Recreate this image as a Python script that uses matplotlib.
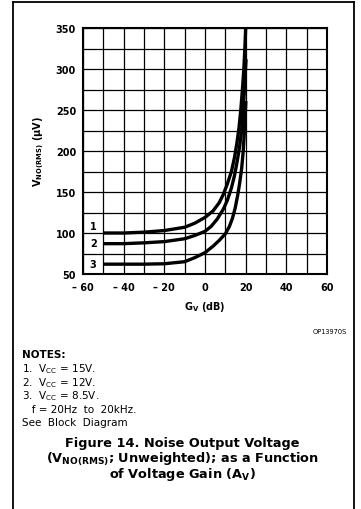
import numpy as np
import matplotlib
matplotlib.use("Agg")
import matplotlib.pyplot as plt
from matplotlib.lines import Line2D

plt.rcParams["font.family"] = ["DejaVu Sans"]
plt.rcParams["mathtext.default"] = "regular"

# curves: gain (dB) -> noise output (uV rms)
gv_1 = [-50, -40, -30, -20, -10, -5, 0, 4, 7, 9, 11, 13, 14.5, 15.7, 16.7, 17.6, 18.4, 19.1, 19.6, 20.0]
vno_1 = [100, 100, 101, 103, 107, 112, 119, 127, 137, 147, 160, 175, 192, 210, 228, 250, 275, 300, 325, 350]
gv_2 = [-50, -40, -30, -20, -10, -5, 0, 3, 6, 9, 11, 13, 14.5, 15.8, 17, 18, 18.8, 19.4, 19.9, 20.2]
vno_2 = [87, 87, 88, 89.5, 93, 97, 102, 108, 117, 129, 140, 155, 170, 187, 205, 225, 250, 275, 300, 312]
gv_3 = [-50, -40, -30, -20, -10, -5, 0, 4, 7, 10, 12, 13.5, 14.8, 16, 17, 18, 18.8, 19.4, 19.8, 20.1]
vno_3 = [62, 62, 62, 62.5, 65, 70, 76, 84, 91, 99, 108, 118, 130, 145, 160, 178, 200, 225, 245, 261]
curve_labels = ["1", "2", "3"]
label_y = [109, 88, 62]

x_ticks = [-60, -40, -20, 0, 20, 40, 60]
x_ticklabels = ["\u2013 60", "\u2013 40", "\u2013 20", "0", "20", "40", "60"]
y_ticks = [50, 100, 150, 200, 250, 300, 350]

notes = ["1.  V$_{CC}$ = 15V.", "2.  V$_{CC}$ = 12V.", "3.  V$_{CC}$ = 8.5V.",
         "   f = 20Hz  to  20kHz.", "See  Block  Diagram"]
caption = ["Figure 14. Noise Output Voltage",
           "(V$_{NO(RMS)}$; Unweighted); as a Function",
           "of Voltage Gain (A$_V$)"]

W, H = 361, 510
fig = plt.figure(figsize=(W / 100, H / 100), dpi=100)
ax = fig.add_axes([83 / W, 1 - 275 / H, 244 / W, 246 / H])

for gv, v in [(gv_1, vno_1), (gv_2, vno_2), (gv_3, vno_3)]:
    ax.plot(gv, v, color="black", lw=2.4, solid_capstyle="butt", solid_joinstyle="round", zorder=3)
for t, y in zip(curve_labels, label_y):
    ax.text(-55, y, t, ha="center", va="center", fontsize=7, fontweight="bold", zorder=4)

ax.set_xlim(-60, 60)
ax.set_ylim(50, 350)
ax.set_xticks(np.arange(-60, 61, 10), minor=True)
ax.set_yticks(np.arange(50, 351, 25), minor=True)
ax.set_xticks(x_ticks)
ax.set_xticklabels(x_ticklabels)
ax.set_yticks(y_ticks)
ax.grid(which="both", color="black", lw=0.9)
ax.set_axisbelow(True)
ax.tick_params(which="both", length=0)
ax.tick_params(axis="x", pad=6, labelsize=7)
ax.tick_params(axis="y", pad=5, labelsize=7)
for lab in ax.get_xticklabels() + ax.get_yticklabels():
    lab.set_fontweight("bold")
for s in ax.spines.values():
    s.set_linewidth(1.5)

ax.set_xlabel("G$_V$ (dB)", fontsize=7, fontweight="bold", labelpad=5)
ax.set_ylabel("V$_{NO(RMS)}$ (\u00b5V)", fontsize=7, fontweight="bold", labelpad=7)

# outer frame (open at the bottom)
fx = lambda p: p / W
fy = lambda p: 1 - p / H
for xs, ys in [([12.5, 12.5], [H + 5, 3]), ([12.5, 354], [3, 3]), ([354, 354], [3, H + 5])]:
    fig.add_artist(Line2D([fx(a) for a in xs], [fy(b) for b in ys], color="black", lw=1.3))

fig.text(fx(347), fy(332), "OP13970S", ha="right", va="center", fontsize=4.8)
fig.text(fx(22), fy(355), "NOTES:", ha="left", va="center", fontsize=7.5, fontweight="bold")
for i, n in enumerate(notes):
    fig.text(fx(22), fy(369.5 + i * 13.5), n, ha="left", va="center", fontsize=7.5)
for i, c in enumerate(caption):
    fig.text(fx(182), fy(444 + i * 15.5), c, ha="center", va="center", fontsize=9.3, fontweight="bold")

fig.savefig("out.png", dpi=100)
